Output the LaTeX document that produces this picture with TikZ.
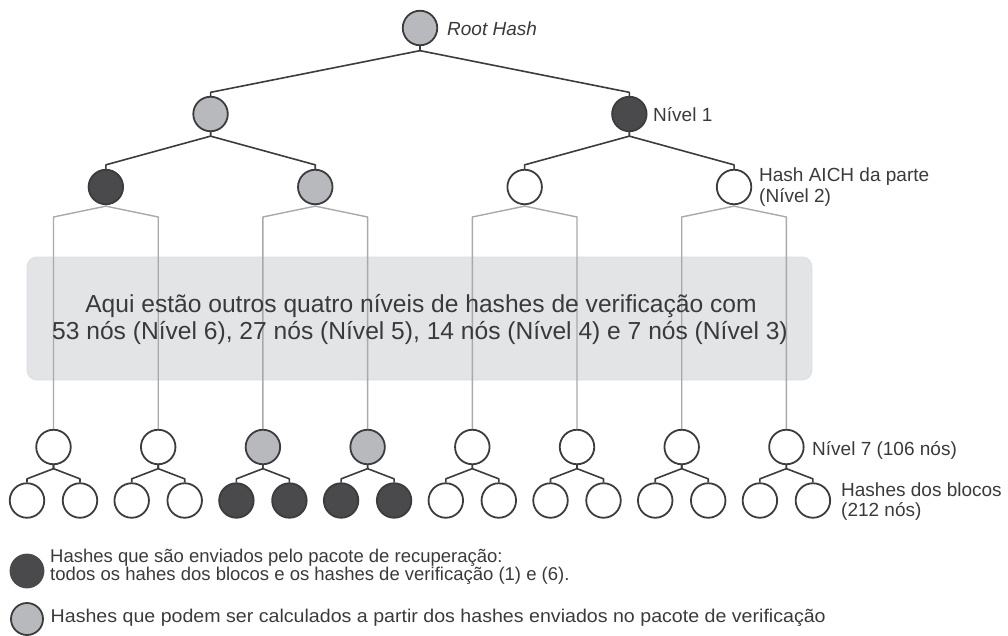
\documentclass[tikz,border=0pt]{standalone}
\usepackage{fontspec}
\setmainfont{Liberation Sans}
\usetikzlibrary{calc}
\definecolor{ln}{HTML}{3C3C3E}
\definecolor{dk}{HTML}{4A4A4C}
\definecolor{gf}{HTML}{B8B9BC}
\definecolor{gl}{HTML}{A8A9AC}
\definecolor{boxc}{HTML}{E3E4E6}
\definecolor{boxb}{HTML}{DCDDDF}
\definecolor{tx}{HTML}{3A3A3C}
\begin{document}
\begin{tikzpicture}[x=1pt,y=-1pt,
  hn/.style={circle,draw=ln,line width=1.8pt,minimum size=34.5pt,inner sep=0pt},
  wn/.style={hn,fill=white},
  dn/.style={hn,fill=dk},
  gn/.style={hn,fill=gf},
  dkedge/.style={draw=ln,line width=1.6pt,line join=round},
  gredge/.style={draw=gl,line width=1.4pt,line join=round},
  lbl/.style={inner sep=0pt,anchor=base west,text=tx,font=\fontsize{19}{22}\selectfont},
  boxtxt/.style={inner sep=0pt,anchor=base,text=tx,font=\fontsize{24.6}{27}\selectfont},
  legtxt/.style={inner sep=0pt,anchor=west,align=left,text=tx,font=\fontsize{18.5}{18.5}\selectfont},
]
\useasboundingbox (0,0) rectangle (1008,636);
% grey box
\path[fill=boxc,draw=boxb,line width=0.8pt,rounded corners=10pt] (27,257) rectangle (812,380);
% nodes
\node[gn] (r) at (420,28) {};
\node[gn] (p0) at (210.55,114) {};
\node[dn] (p1) at (629.35,114) {};
\foreach \j/\f in {0/dn,1/gn,2/wn,3/wn}
  \node[\f] (q\j) at ({105.85+209.4*\j},187) {};
\foreach \i/\f in {0/wn,1/wn,2/gn,3/gn,4/wn,5/wn,6/wn,7/wn}
  \node[\f] (s\i) at ({53.5+104.7*\i},447) {};
\foreach \i/\f in {0/wn,1/wn,2/dn,3/dn,4/wn,5/wn,6/wn,7/wn}{
  \node[\f] (a\i) at ({53.5+104.7*\i-26.5},500.5) {};
  \node[\f] (b\i) at ({53.5+104.7*\i+26.5},500.5) {};
  \draw[dkedge] (s\i.south) -- ++(0,3.5) -- ([yshift=3.5pt]a\i.north) -- (a\i.north);
  \draw[dkedge] (s\i.south) -- ++(0,3.5) -- ([yshift=3.5pt]b\i.north) -- (b\i.north);
}
% dark edges
\foreach \c in {p0,p1}
  \draw[dkedge] (r.south) -- ++(0,4.5) -- ([yshift=3.5pt]\c.north) -- (\c.north);
\foreach \c in {q0,q1}
  \draw[dkedge] (p0.south) -- ++(0,4) -- ([yshift=4pt]\c.north) -- (\c.north);
\foreach \c in {q2,q3}
  \draw[dkedge] (p1.south) -- ++(0,4) -- ([yshift=4pt]\c.north) -- (\c.north);
% grey edges
\foreach \p/\a/\b in {q0/s0/s1,q1/s2/s3,q2/s4/s5,q3/s6/s7}{
  \draw[gredge] (\p.south) -- ++(0,1) -- (\a.north |- 0,217) -- (\a.north);
  \draw[gredge] (\p.south) -- ++(0,1) -- (\b.north |- 0,217) -- (\b.north);
}
% box text
\node[boxtxt] (bt1) at (421,312) {Aqui estão outros quatro níveis de hashes de verificação com};
\node[boxtxt] (bt2) at (420,339) {53 nós (Nível 6), 27 nós (Nível 5), 14 nós (Nível 4) e 7 nós (Nível 3)};
% labels
\node[lbl,font=\fontsize{19}{22}\selectfont\itshape] (lroot) at (447,36) {Root Hash};
\node[lbl] (l1) at (653,122) {Nível 1};
\node[lbl] (l2a) at (759,182) {Hash AICH da parte};
\node[lbl] (l2b) at (759,203) {(Nível 2)};
\node[lbl] (l7) at (812,455) {Nível 7 (106 nós)};
\node[lbl] (lba) at (841,496) {Hashes dos blocos};
\node[lbl] (lbb) at (841,516) {(212 nós)};
% legend
\node[hn,fill=dk,draw=dk,minimum size=33pt] (k1) at (27,571) {};
\node[hn,fill=gf,minimum size=32pt] (k2) at (27,619) {};
\node[legtxt] (kt1) at (50,567) {Hashes que são enviados pelo pacote de recuperação:\\todos os hahes dos blocos e os hashes de verificação (1) e (6).};
\node[legtxt,xscale=1.06,transform shape] (kt2) at (50.5,618) {Hashes que podem ser calculados a partir dos hashes enviados no pacote de verificação};
\end{tikzpicture}
\end{document}
